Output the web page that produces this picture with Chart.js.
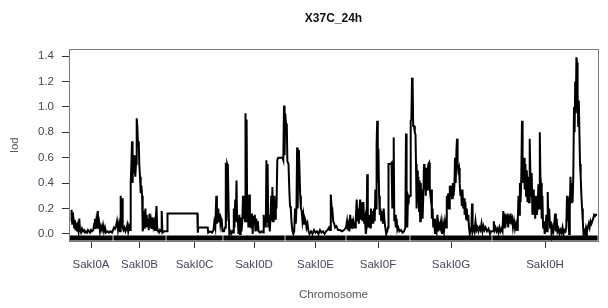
<!DOCTYPE html>
<html>
<head>
<meta charset="utf-8">
<script src="https://cdn.jsdelivr.net/npm/chart.js@4.4.1/dist/chart.umd.min.js"></script>
<style>
  html, body { margin: 0; padding: 0; background: #fff; }
  #wrap { width: 608px; height: 308px; }
</style>
</head>
<body>
<div id="wrap"><canvas id="lodChart"></canvas></div>
<script>
// chromosomes, genome-wide position of each start / end
const chromNames = ['SakI0A', 'SakI0B', 'SakI0C', 'SakI0D', 'SakI0E', 'SakI0F', 'SakI0G', 'SakI0H'];
const chromStart = [0, 44, 97, 154, 216, 277, 341, 423];
const chromEnd = [44, 97, 154, 216, 277, 341, 423, 529];
const yTicks = [0, 0.2, 0.4, 0.6, 0.8, 1.0, 1.2, 1.4];

// [position, lod] per chromosome
const lodA = [[2,0.10],[2.6,0.19],[3.2,0.08],[3.8,0.17],[4.5,0.12],[5.2,0.05],[5.8,0.11],[6.5,0.03],[7.2,0.09],[7.9,0.02],[8.6,0.06],[9.5,0.02],[10.3,0.12],[11,0.03],[12,0.01],[13,0.04],[14,0.02],[15,0.03],[16,0.01],[17,0.02],[18,0.01],[19,0.03],[20,0.02],[21,0.01],[22,0.03],[23,0.02],[24.3,0.03],[25.2,0.08],[25.9,0.12],[26.6,0.04],[27.3,0.10],[28,0.05],[28.8,0.18],[29.5,0.04],[30.2,0.08],[31,0.02],[32,0.06],[33,0.03],[34,0.07],[35,0.02],[36,0.05],[37,0.01],[38.5,0.02],[40,0.01],[41.5,0.02],[43,0.01]];
const lodB = [[45,0.05],[46,0.04],[47,0.06],[48,0.10],[49,0.03],[50,0.08],[51,0.02],[51.7,0.30],[52.3,0.06],[53,0.28],[53.7,0.05],[54.5,0.03],[55.5,0.05],[56.5,0.02],[57.5,0.04],[58.3,0.07],[59.2,0.02],[60,0.06],[61,0.03],[61.7,0.40],[62.4,0.55],[63,0.73],[63.6,0.40],[64.2,0.60],[64.9,0.48],[65.6,0.62],[66.3,0.45],[67,0.55],[67.7,0.91],[68.3,0.85],[69,0.70],[69.7,0.73],[70.3,0.55],[71,0.45],[71.7,0.32],[72.4,0.38],[73.1,0.30],[73.7,0.02],[74.4,0.08],[75,0.18],[75.7,0.04],[76.4,0.20],[77,0.06],[77.7,0.15],[78.4,0.05],[79.1,0.12],[79.8,0.03],[80.5,0.16],[81.2,0.05],[82,0.10],[82.8,0.04],[83.6,0.13],[84.4,0.06],[85.2,0.09],[86,0.03],[86.8,0.12],[87.5,0.22],[88.2,0.05],[89,0.02],[90,0.01],[91,0.03],[92,0.02],[92.7,0.18],[93.4,0.01],[95,0.02]];
const lodC = [[98,0.02],[98.5,0.16],[105,0.16],[112,0.16],[120,0.16],[128.3,0.16],[128.8,0.01],[129.3,0.05],[134,0.05],[138.7,0.05],[139.2,0.01],[141,0.02],[143,0.01],[144.5,0.03],[145.3,0.09],[146.3,0.05],[147.3,0.30],[147.9,0.08],[148.6,0.12],[149.3,0.20],[150,0.10],[150.7,0.16],[151.4,0.08],[152.1,0.12],[152.8,0.10],[153.5,0.02]];
const lodD = [[155,0.02],[156,0.05],[156.8,0.56],[157.5,0.10],[158.2,0.55],[158.9,0.53],[159.6,0.20],[160.3,0.0],[161.2,0.02],[162.2,0.0],[163.2,0.02],[164.2,0.01],[164.8,0.20],[165.5,0.05],[166.2,0.27],[166.8,0.10],[167.5,0.42],[168.1,0.10],[168.8,0.12],[169.5,0.0],[170.3,0.15],[171,0.0],[171.7,0.13],[172.5,0.02],[173.3,0.10],[174,0.30],[174.7,0.12],[175.3,0.28],[176,0.10],[176.5,0.95],[177.1,0.20],[177.6,0.90],[178.2,0.10],[178.8,0.20],[179.4,0.05],[180.2,0.31],[180.9,0.05],[181.6,0.15],[182.3,0.05],[183,0.16],[183.7,0.0],[184.4,0.14],[185.1,0.08],[185.8,0.15],[186.5,0.02],[187.3,0.12],[188,0.03],[188.8,0.10],[189.6,0.02],[191,0.01],[192.5,0.02],[194,0.01],[194.7,0.15],[195.4,0.05],[196.1,0.12],[196.8,0.05],[197.4,0.58],[198,0.10],[198.6,0.55],[199.3,0.05],[200,0.15],[200.8,0.02],[201.5,0.12],[202.2,0.30],[202.8,0.10],[203.4,0.37],[204,0.10],[204.7,0.15],[205.4,0.30],[206.1,0.12],[206.8,0.25],[207.5,0.20],[208.3,0.58],[209.2,0.60],[210.5,0.60],[212,0.60],[213.5,0.60],[214.3,0.58],[215,1.01],[215.6,0.62],[216.2,0.95]];
const lodE = [[217,0.87],[217.8,0.85],[218.4,0.57],[219.5,0.55],[220.3,0.35],[221,0.22],[221.8,0.20],[222.6,0.08],[223.5,0.02],[224.3,0.0],[225.2,0.02],[226,0.20],[226.8,0.08],[227.5,0.22],[228.1,0.68],[228.7,0.20],[229.3,0.62],[229.9,0.66],[230.5,0.50],[231.2,0.30],[231.9,0.20],[232.7,0.18],[233.5,0.10],[234.3,0.15],[235.1,0.08],[235.9,0.12],[236.7,0.10],[237.5,0.05],[238.5,0.08],[239.5,0.02],[240.5,0.0],[242,0.02],[243.5,0.0],[245,0.03],[246.5,0.01],[248,0.02],[249.5,0.0],[251,0.03],[252.5,0.01],[254,0.02],[255.5,0.0],[257,0.02],[258.5,0.03],[260,0.05],[261,0.03],[261.8,0.31],[262.5,0.22],[263.3,0.20],[264.2,0.10],[265.2,0.08],[266.2,0.05],[267.5,0.06],[269,0.03],[271,0.03],[273,0.02],[275,0.03]];
const lodF = [[277,0.05],[278,0.10],[278.8,0.03],[279.6,0.07],[280.4,0.02],[281.2,0.15],[282,0.05],[282.8,0.12],[283.6,0.04],[284.4,0.10],[285.2,0.07],[286,0.05],[286.8,0.12],[287.7,0.27],[288.4,0.10],[289.1,0.20],[289.8,0.08],[290.5,0.20],[291.2,0.27],[292,0.12],[292.8,0.25],[293.6,0.10],[294.4,0.25],[295.2,0.08],[296,0.12],[296.8,0.0],[297.6,0.05],[298.2,0.47],[298.8,0.15],[299.5,0.05],[300.3,0.15],[301.1,0.05],[301.9,0.20],[302.7,0.08],[303.5,0.18],[304.3,0.08],[305,0.20],[305.7,0.10],[306.4,0.35],[307.1,0.20],[307.6,0.70],[308.2,0.89],[308.8,0.40],[309.4,0.67],[310.1,0.30],[310.8,0.15],[311.5,0.20],[312.3,0.10],[313.1,0.18],[313.9,0.08],[314.7,0.20],[315.5,0.10],[316.3,0.05],[317.2,0.0],[318.2,0.02],[319,0.05],[319.5,0.55],[320.5,0.55],[321.5,0.55],[322.5,0.56],[323.3,0.20],[324,0.56],[324.7,0.76],[325.3,0.10],[326,0.15],[326.8,0.05],[327.6,0.12],[328.4,0.03],[329.3,0.05],[330.5,0.02],[332,0.03],[333.5,0.01],[335,0.02],[336.3,0.05],[337,0.79],[337.6,0.30],[338.3,0.05],[339,0.30],[339.7,0.28]];
const lodG = [[341,0.30],[341.7,0.89],[342.4,0.90],[343,1.23],[343.6,1.20],[344.2,0.85],[345,0.85],[345.8,0.80],[346.5,0.78],[347,0.55],[347.6,0.20],[348.2,0.50],[348.8,0.25],[349.4,0.45],[350,0.18],[350.6,0.42],[351.2,0.10],[351.8,0.40],[352.4,0.15],[353,0.35],[353.6,0.12],[354.3,0.30],[355,0.55],[355.6,0.35],[356.2,0.50],[356.8,0.30],[357.4,0.52],[358,0.35],[358.7,0.50],[359.4,0.55],[360.1,0.56],[360.8,0.35],[361.5,0.30],[362.2,0.35],[362.9,0.12],[363.6,0.20],[364.3,0.05],[365.1,0.12],[366,0.0],[366.8,0.05],[367.6,0.02],[368.4,0.15],[369.2,0.02],[370,0.08],[371,0.05],[372,0.10],[373,0.0],[374,0.08],[375,0.02],[376,0.10],[377,0.05],[377.8,0.30],[378.5,0.20],[379.2,0.32],[380,0.20],[380.8,0.38],[381.5,0.30],[382.2,0.38],[383,0.28],[383.8,0.40],[384.6,0.30],[385.4,0.38],[386,0.60],[386.7,0.40],[387.4,0.65],[388,0.75],[388.6,0.55],[389.3,0.50],[390,0.52],[390.7,0.40],[391.4,0.30],[392.1,0.35],[392.8,0.22],[393.5,0.35],[394.2,0.20],[395,0.28],[395.7,0.15],[396.4,0.25],[397.1,0.12],[397.8,0.20],[398.5,0.10],[399.3,0.15],[400,0.05],[400.8,0.0],[401.6,0.02],[402.4,0.05],[403,0.24],[403.6,0.02],[404.5,0.05],[405.5,0.02],[406.5,0.10],[407.5,0.03],[408.5,0.05],[409.5,0.02],[410.5,0.05],[411.5,0.03],[412.5,0.08],[413.5,0.02],[414.5,0.06],[415.5,0.03],[416.5,0.05],[418,0.02],[419.5,0.04],[421,0.0],[422,0.02]];
const lodH = [[424,0.02],[424.8,0.10],[425.6,0.03],[426.5,0.05],[427.5,0.02],[428.5,0.04],[429.5,0.01],[430.5,0.05],[431.5,0.02],[432.5,0.04],[433.5,0.02],[434.3,0.18],[435,0.05],[435.7,0.16],[436.4,0.05],[437.1,0.15],[437.8,0.08],[438.5,0.16],[439.2,0.05],[440,0.15],[440.8,0.08],[441.6,0.16],[442.4,0.10],[443.2,0.12],[444,0.05],[445,0.10],[446,0.04],[447,0.08],[448,0.03],[448.8,0.12],[449.5,0.30],[450.2,0.15],[450.9,0.40],[451.6,0.25],[452.3,0.45],[453,0.89],[453.6,0.60],[454.3,0.40],[455,0.60],[455.7,0.35],[456.4,0.55],[457.1,0.30],[457.8,0.50],[458.5,0.25],[459.2,0.45],[460,0.25],[460.7,0.75],[461.3,0.50],[462,0.30],[462.7,0.48],[463.4,0.15],[464.1,0.35],[464.8,0.15],[465.5,0.30],[466.2,0.12],[467,0.30],[467.8,0.15],[468.6,0.20],[469.4,0.39],[470.1,0.20],[470.8,0.80],[471.4,0.45],[472,0.40],[472.7,0.12],[473.4,0.30],[474.1,0.05],[474.9,0.10],[475.7,0.0],[476.5,0.05],[477.3,0.15],[478,0.02],[478.7,0.33],[479.4,0.10],[480.2,0.20],[481,0.05],[481.8,0.10],[482.6,0.0],[483.5,0.05],[484.4,0.02],[485.3,0.08],[486.1,0.16],[486.9,0.02],[487.7,0.12],[488.5,0.02],[489.5,0.04],[490.5,0.0],[491.5,0.03],[492.5,0.01],[493.5,0.05],[494.5,0.0],[495.5,0.03],[496.5,0.02],[497.3,0.05],[498,0.30],[498.7,0.10],[499.4,0.28],[500.1,0.0],[500.8,0.20],[501.5,0.45],[502.2,0.25],[502.9,0.40],[503.6,0.25],[504.3,0.45],[505,1.00],[505.6,0.80],[506.2,1.20],[506.8,0.95],[507.4,1.39],[508,1.35],[508.6,1.10],[509.2,0.85],[509.8,1.05],[510.4,0.80],[511,0.55],[511.7,0.45],[512.4,0.30],[513.1,0.20],[513.8,0.10],[514.5,0.0],[515.3,0.02],[516.1,0.0],[517,0.05],[517.9,0.02],[518.8,0.05],[519.7,0.08],[520.6,0.05],[521.5,0.10],[522.4,0.08],[523.3,0.10],[524.2,0.12],[525.1,0.15],[526,0.14],[527,0.15],[528,0.15]];

const allLod = [lodA, lodB, lodC, lodD, lodE, lodF, lodG, lodH];
const scanPoints = allLod.flat().map(p => ({ x: p[0], y: p[1] }));
const chromCenters = chromStart.map((s, i) => (s + chromEnd[i]) / 2);

// rug along the bottom of the box, broken at chromosome ends
const RUG_Y = -0.032;
const rugPoints = [];
chromStart.forEach((s, i) => {
  rugPoints.push({ x: s + 0.4, y: RUG_Y }, { x: chromEnd[i] - 0.4, y: RUG_Y }, { x: chromEnd[i], y: null });
});

const FONT = "'Liberation Sans', Arial, sans-serif";
const LABEL = '#4d4060';

const boxPlugin = {
  id: 'box',
  afterDatasetsDraw(chart) {
    const { ctx, chartArea: a } = chart;
    ctx.save();
    ctx.strokeStyle = '#7a7a7a';
    ctx.lineWidth = 1;
    ctx.strokeRect(a.left + 0.5, a.top + 0.5, a.right - a.left, a.bottom - a.top);
    ctx.restore();
  }
};

new Chart(document.getElementById('lodChart'), {
  type: 'line',
  data: {
    datasets: [{
      label: 'rug',
      data: rugPoints,
      borderColor: '#000',
      borderWidth: 5,
      borderCapStyle: 'butt',
      pointRadius: 0,
      spanGaps: false
    }, {
      label: 'lod',
      data: scanPoints,
      borderColor: '#000',
      borderWidth: 2,
      pointRadius: 0,
      tension: 0
    }]
  },
  options: {
    responsive: true,
    maintainAspectRatio: false,
    animation: false,
    layout: { padding: { left: 0, right: 10, top: 0, bottom: 0 } },
    plugins: {
      legend: { display: false },
      tooltip: { enabled: false },
      title: {
        display: true,
        text: 'X37C_24h',
        fullSize: false,
        color: '#111',
        font: { family: FONT, size: 12, weight: 'bold' },
        padding: { top: 11, bottom: 23.6 }
      }
    },
    scales: {
      x: {
        type: 'linear',
        min: 0,
        max: 529,
        afterFit: s => { s.height = 67; },
        afterBuildTicks: s => { s.ticks = chromCenters.map(v => ({ value: v })); },
        grid: { drawOnChartArea: false, tickLength: 7, color: '#333' },
        border: { display: false },
        ticks: {
          autoSkip: false,
          maxRotation: 0,
          padding: 10,
          color: LABEL,
          font: { family: FONT, size: 11.5 },
          callback: (v, i) => chromNames[i]
        },
        title: {
          display: true,
          text: 'Chromosome',
          color: '#555',
          font: { family: FONT, size: 11.5 },
          padding: { top: 6, bottom: 6 }
        }
      },
      y: {
        min: -0.056,
        max: 1.456,
        afterFit: s => { s.width = 69; },
        afterBuildTicks: s => { s.ticks = yTicks.map(v => ({ value: v })); },
        grid: { drawOnChartArea: false, tickLength: 7, color: '#333' },
        border: { display: true, color: '#333' },
        ticks: {
          padding: 8,
          color: LABEL,
          font: { family: FONT, size: 11.5 },
          callback: v => v.toFixed(1)
        },
        title: {
          display: true,
          text: 'lod',
          color: '#555',
          font: { family: FONT, size: 11.5 },
          padding: { top: 8, bottom: 8 }
        }
      }
    }
  },
  plugins: [boxPlugin]
});
</script>
</body>
</html>
